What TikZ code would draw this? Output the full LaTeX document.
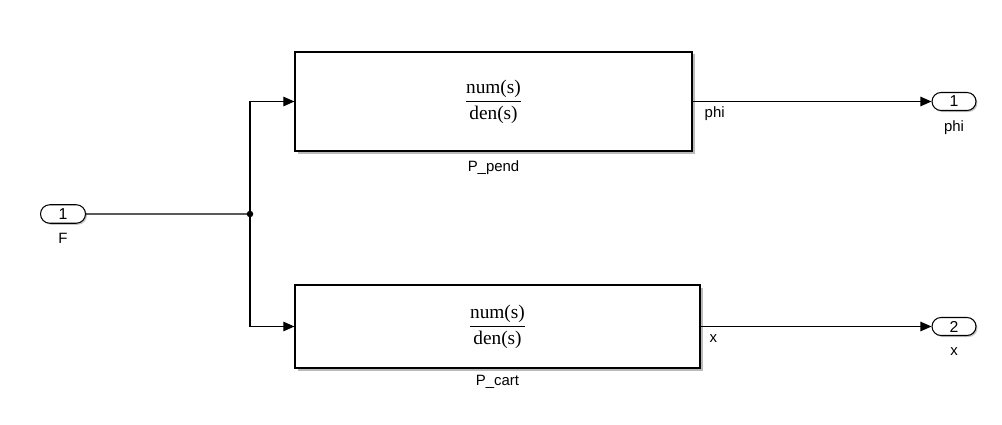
\documentclass[tikz,border=0pt]{standalone}
\usepackage{fontspec}
\setmainfont{Liberation Serif}
\setsansfont{Liberation Sans}
\usetikzlibrary{shapes.misc,arrows.meta,positioning,shadows}

\tikzset{
  block/.style={rectangle, draw, fill=white, line width=0.7pt,
    drop shadow={shadow xshift=0.05cm, shadow yshift=-0.05cm, fill=black!45, opacity=0.6}},
  port/.style={rounded rectangle, draw, fill=white, line width=0.6pt, inner sep=0pt,
    minimum width=0.9cm, minimum height=0.37cm, font=\sffamily\fontsize{9}{10}\selectfont,
    drop shadow={shadow xshift=0.03cm, shadow yshift=-0.03cm, fill=black!45, opacity=0.5}},
  lbl/.style={font=\sffamily\fontsize{8.5}{10}\selectfont, inner sep=1pt, anchor=base},
  sig/.style={line width=0.6pt, -{Triangle[length=0.22cm,width=0.19cm]}}
}

\newcommand{\tfrac}{$\displaystyle\frac{\mbox{num(s)}}{\mbox{den(s)}}$}

\begin{document}
\begin{tikzpicture}
\useasboundingbox (0,0) rectangle (20.04,8.48);

% input
\node[port] (inF) at (1.26,4.2) {1};
\node[lbl] (inFlbl) at (1.26,3.62) {F};
\coordinate (jn) at (5.0,4.2);

% transfer functions
\node[block, minimum width=7.94cm, minimum height=1.98cm, font=\fontsize{11}{13}\selectfont] (pend) at (9.87,6.45) {\tfrac};
\node[lbl] (pendlbl) at (9.87,5.05) {P\_pend};
\node[block, minimum width=8.1cm, minimum height=1.66cm, font=\fontsize{11}{13}\selectfont] (cart) at (9.95,1.95) {\tfrac};
\node[lbl] (cartlbl) at (9.95,0.77) {P\_cart};

% outputs
\node[port, minimum width=0.88cm, minimum height=0.36cm] (outphi) at (19.08,6.45) {1};
\node[lbl] (outphilbl) at (19.08,5.85) {phi};
\node[port, minimum width=0.88cm, minimum height=0.36cm] (outx) at (19.08,1.95) {2};
\node[lbl] (outxlbl) at (19.08,1.38) {x};

\draw[line width=0.6pt] (inF) -- (jn);
\fill (jn) circle (0.065);
\draw[sig] (jn) |- (pend.west);
\draw[sig] (jn) |- (cart.west);
\draw[sig] (pend.east) -- (outphi.west);
\draw[sig] (cart.east) -- (outx.west);

\node[lbl, anchor=base west] (phisig) at ([xshift=0.2cm,yshift=-0.31cm]pend.east) {phi};
\node[lbl, anchor=base west] (xsig) at ([xshift=0.14cm,yshift=-0.31cm]cart.east) {x};
\end{tikzpicture}
\end{document}
